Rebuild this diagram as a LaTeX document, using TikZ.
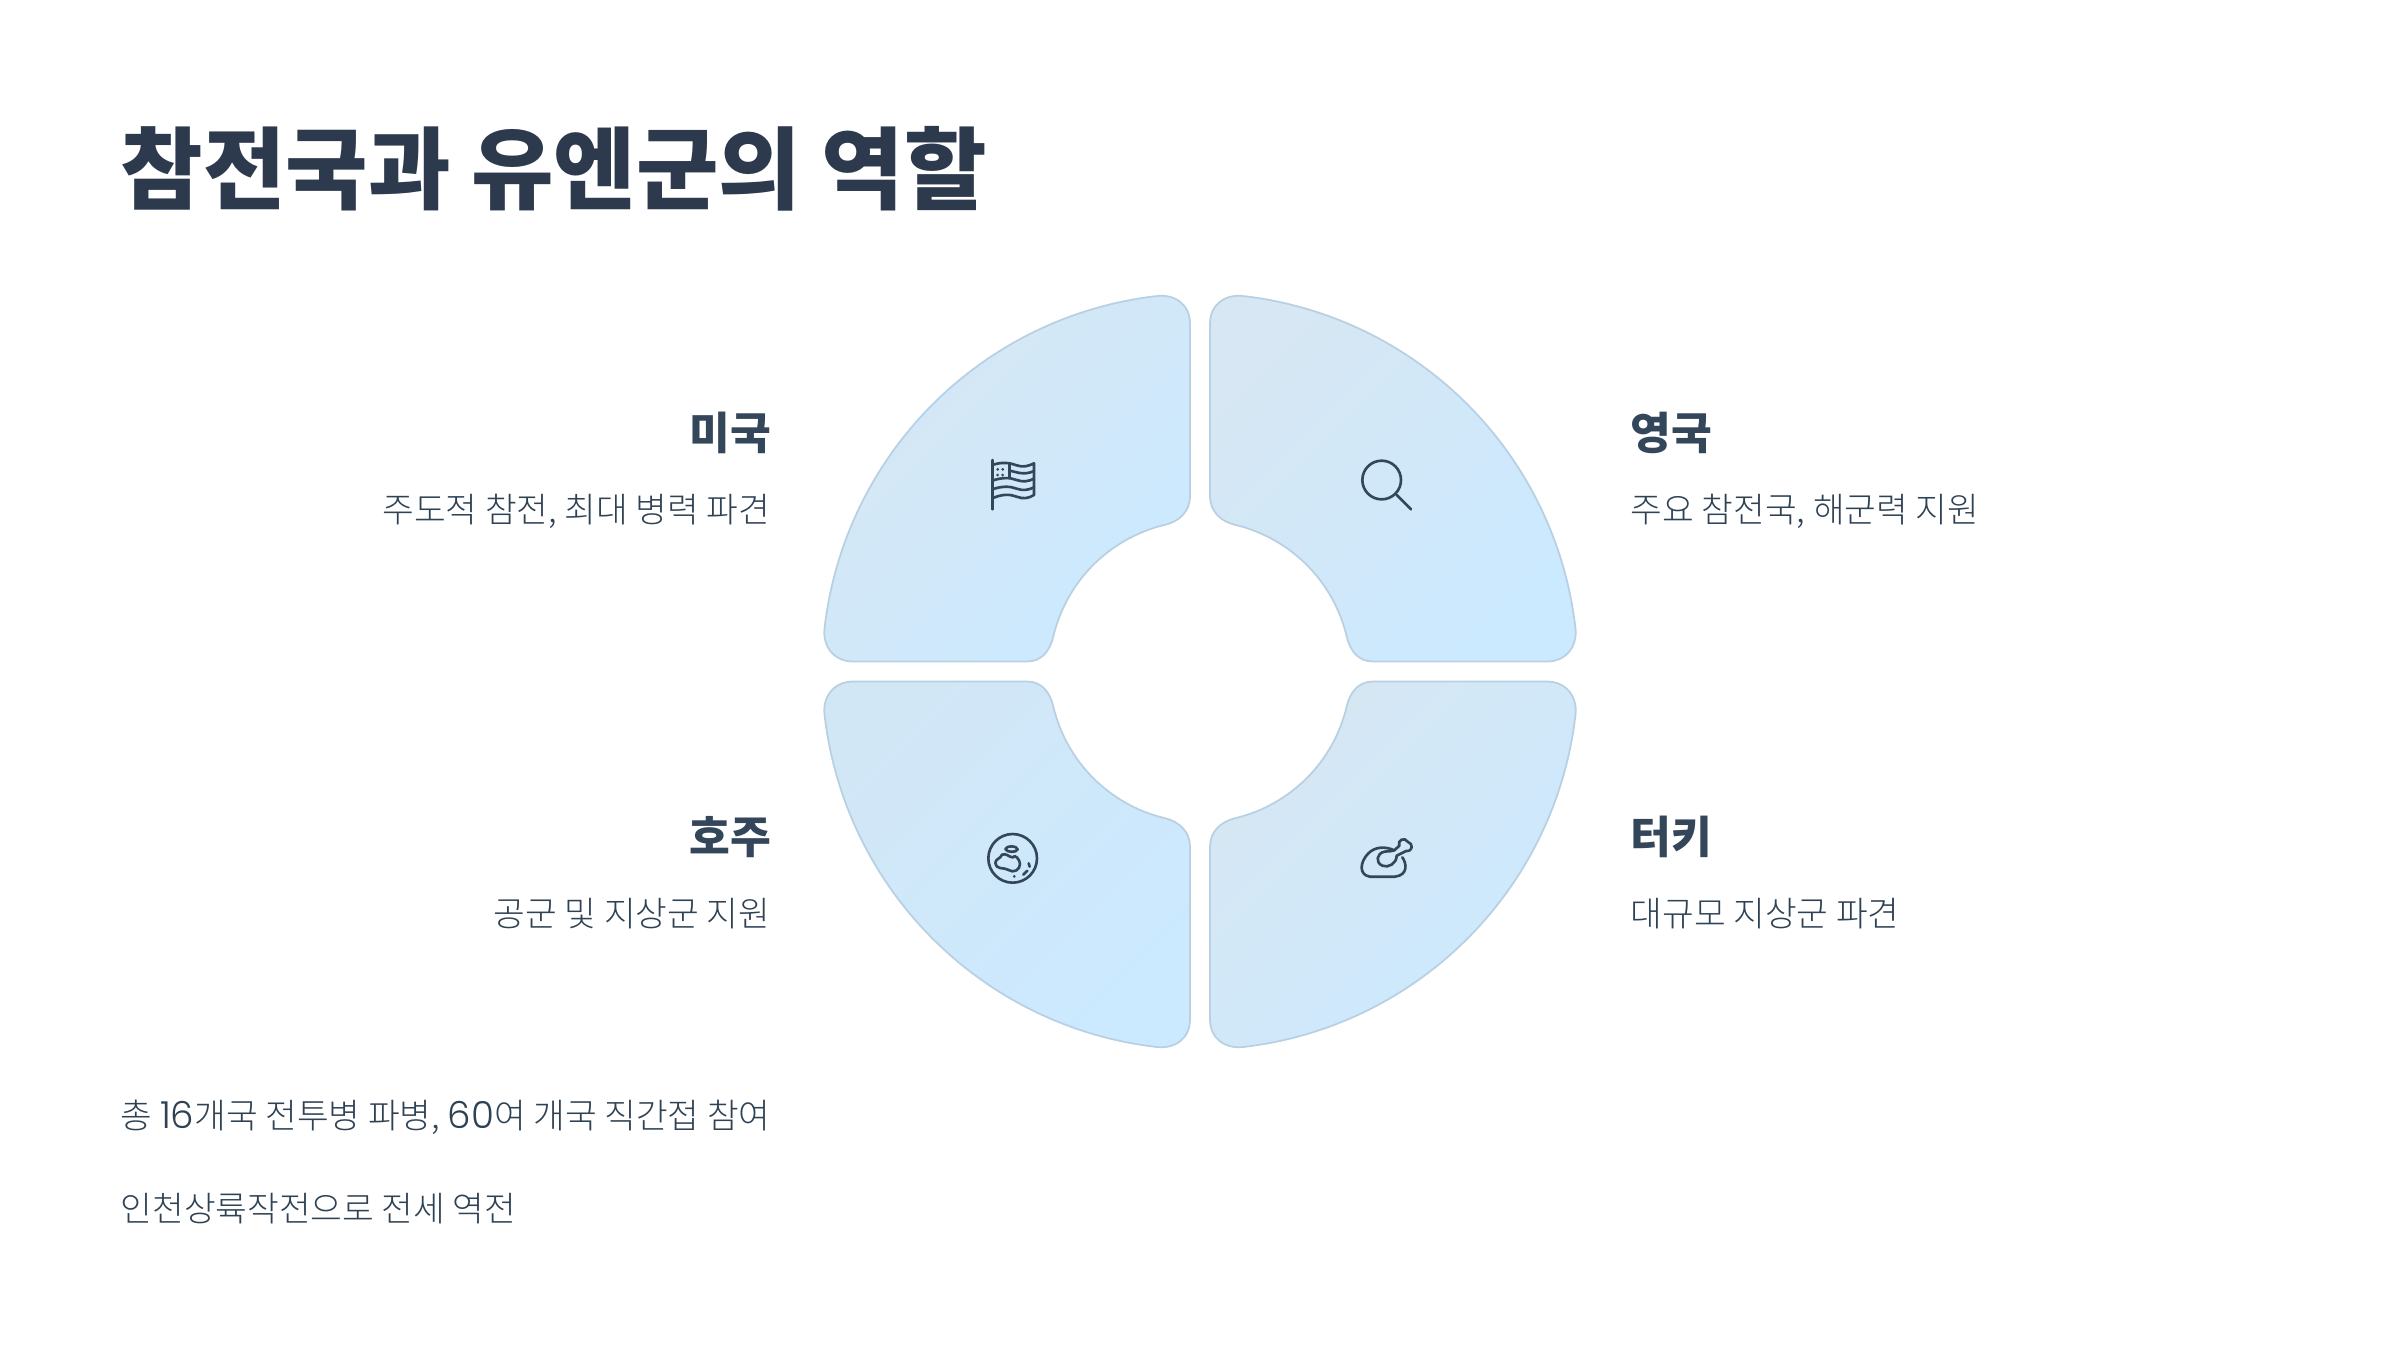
\documentclass[tikz,border=0pt]{standalone}
\usepackage{fontspec}
\usepackage{tikz}
\setmainfont{Noto Sans CJK KR}
\newfontfamily\lightfont{Noto Sans CJK KR Light}
\newfontfamily\latinfont[Scale=1.08]{Poppins Light}
\definecolor{inktitle}{HTML}{2D3A4D}
\definecolor{inkhead}{HTML}{34475A}
\definecolor{inkbody}{HTML}{2F4254}
\definecolor{petaltop}{HTML}{D7E7F3}
\definecolor{petalbluer}{HTML}{D2E7F6}
\definecolor{petalbot}{HTML}{CBE9FF}
\definecolor{petalline}{HTML}{B8D0E2}
\tikzset{
  titletext/.style={anchor=base west,inner sep=0pt,text=inktitle,font=\fontsize{25.5pt}{30pt}\selectfont\bfseries},
  headtext/.style={inner sep=0pt,text=inkhead,font=\fontsize{12.6pt}{15pt}\selectfont\bfseries},
  bodytext/.style={inner sep=0pt,text=inkbody,font=\fontsize{9.8pt}{12pt}\selectfont\lightfont},
  petal/.style={draw=petalline,line width=0.5pt,bottom color=petalbot,shading angle=45},
  icon/.style={draw=inkhead,line width=0.75pt,line cap=round,line join=round}
}
\newcommand{\pp}[2]{(\sx*#1,\sy*#2)}
\begin{document}
\begin{tikzpicture}[x=0.01cm,y=-0.01cm]
\useasboundingbox (0,0) rectangle (2400,1350);
\node[titletext] (title) at (120,202) {참전국과 유엔군의 역할};
% four petals
\begin{scope}[shift={(1200,671.5)}]
\foreach \sx/\sy/\tone in {-1/-1/petalbluer,1/-1/petaltop,-1/1/petaltop,1/1/petaltop} {
  \path[top color=\tone,petal] \pp{10}{-348} .. controls \pp{10}{-367} and \pp{25}{-377.5} .. \pp{43}{-375.5}
    .. controls \pp{217.7}{-355.5} and \pp{355.5}{-217.7} .. \pp{375.5}{-43}
    .. controls \pp{377.5}{-25} and \pp{366}{-10} .. \pp{347}{-10}
    -- \pp{173}{-10}
    .. controls \pp{158}{-10} and \pp{150}{-21} .. \pp{146.7}{-35}
    .. controls \pp{133.5}{-90.4} and \pp{90.4}{-133.5} .. \pp{35}{-146.7}
    .. controls \pp{21}{-150} and \pp{10}{-160} .. \pp{10}{-175}
    -- cycle;
}
\end{scope}
% flag
\begin{scope}[shift={(960,440)},scale=0.3333]
\draw[icon] (97,60) -- (97,208);
\draw[icon] (97,75) .. controls (125,65) and (150,68) .. (170,76) .. controls (190,83) and (205,78) .. (222,70) -- (222,165)
  .. controls (205,175) and (190,178) .. (170,170) .. controls (150,162) and (125,162) .. (97,175);
\draw[icon] (97,122) .. controls (125,112) and (150,112) .. (170,120) .. controls (190,127) and (205,124) .. (222,116);
\draw[icon] (97,148) .. controls (125,138) and (150,138) .. (170,146) .. controls (190,153) and (205,150) .. (222,142);
\draw[icon] (148,70) -- (148,112);
\draw[icon] (148,92) .. controls (165,94) and (190,108) .. (222,93);
\foreach \dx/\dy in {113/88,128/88,113/105,128/105} {
  \fill[inkhead] (\dx,\dy) circle (4.5);
}
\end{scope}
% magnifier
\begin{scope}[shift={(1340,440)},scale=0.3333]
\draw[icon] (125,120) circle (58);
\draw[icon] (170,165) -- (213,208);
\end{scope}
% globe
\begin{scope}[shift={(970,820)},scale=0.3333]
\draw[icon] (128,115) circle (73);
\draw[icon] (106,87) .. controls (110,76) and (140,76) .. (143,88) .. controls (140,98) and (110,98) .. (106,87);
\draw[icon] (76,128) .. controls (78,115) and (90,118) .. (96,104) .. controls (108,98) and (118,112) .. (128,112)
  .. controls (135,100) and (150,120) .. (150,132) .. controls (150,150) and (130,160) .. (116,150)
  .. controls (100,140) and (80,152) .. (76,128);
\draw[icon] (160,164) -- (172,152);
\draw[icon] (176,130) -- (179,140);
\fill[inkhead] (133,169) circle (4.5);
\end{scope}
% chicken
\begin{scope}[shift={(1345,825)},scale=0.3333]
\draw[icon] (172,97) .. controls (185,115) and (190,150) .. (150,155) -- (75,155)
  .. controls (40,150) and (45,110) .. (70,85) .. controls (90,65) and (120,63) .. (148,76);
\draw[icon] (148,76) -- (163,62) .. controls (155,45) and (180,35) .. (188,50)
  .. controls (205,55) and (205,80) .. (183,78) -- (155,92)
  .. controls (155,115) and (130,130) .. (112,122) .. controls (90,112) and (95,85) .. (118,80) .. controls (130,78) and (140,80) .. (148,76);
\end{scope}
% labels
\node[headtext,anchor=base east] (usa) at (772,449) {미국};
\node[bodytext,anchor=base east] (usatext) at (771,522) {주도적 참전, 최대 병력 파견};
\node[headtext,anchor=base east] (aus) at (772,853) {호주};
\node[bodytext,anchor=base east] (austext) at (771,926) {공군 및 지상군 지원};
\node[headtext,anchor=base west] (uk) at (1630,449) {영국};
\node[bodytext,anchor=base west] (uktext) at (1630,522) {주요 참전국, 해군력 지원};
\node[headtext,anchor=base west] (tur) at (1630,853) {터키};
\node[bodytext,anchor=base west] (turtext) at (1630,926) {대규모 지상군 파견};
\node[bodytext,anchor=base west] (note1) at (120,1128) {총 {\latinfont 16}개국 전투병 파병, {\latinfont 60}여 개국 직간접 참여};
\node[bodytext,anchor=base west] (note2) at (120,1221) {인천상륙작전으로 전세 역전};
\end{tikzpicture}
\end{document}
